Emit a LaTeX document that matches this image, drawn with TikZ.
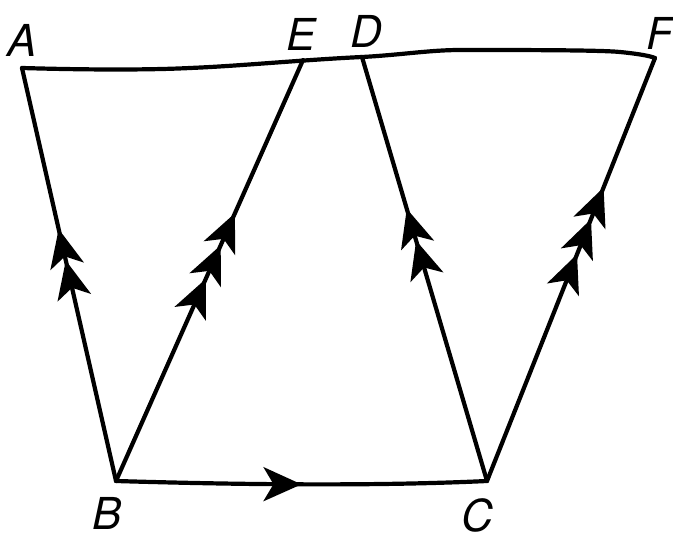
\documentclass[tikz,border=0pt]{standalone}
\usepackage{fontspec}
\setmainfont{TeX Gyre Heros}
\usetikzlibrary{arrows.meta,decorations.markings}
\begin{document}
\begin{tikzpicture}[x=1pt,y=-1pt,
  edge/.style={line width=4.2pt,line cap=round,line join=round},
  lbl/.style={font=\fontsize{44}{46}\selectfont\itshape,inner sep=0pt},
  tip/.tip={Stealth[length=38pt,width=34pt,inset=10pt]},
  ar1/.style={postaction={decorate},decoration={markings,mark=at position #1 with {\arrow{tip}}}},
]
\useasboundingbox (0,0) rectangle (673,553);
\coordinate (A) at (22,68);
\coordinate (E) at (303,60);
\coordinate (D) at (362,57);
\coordinate (F) at (655,58);
\coordinate (B) at (116,481);
\coordinate (C) at (487,481);
\coordinate (t1) at (190,68);
\coordinate (t2) at (460,50);
\coordinate (t3) at (620,52);

\node[lbl] (lA) at (22,40) {A};
\node[lbl] (lE) at (301,34) {E};
\node[lbl] (lD) at (366,31) {D};
\node[lbl] (lF) at (660,33) {F};
\node[lbl] (lB) at (107,513) {B};
\node[lbl] (lC) at (477,515) {C};

\draw[edge] (A) .. controls (90,70) and (150,70) .. (t1)
  .. controls (240,66) and (300,60) .. (D)
  .. controls (400,55) and (430,50) .. (t2)
  .. controls (520,50) and (600,50) .. (t3)
  .. controls (640,54) and (650,56) .. (F);

\draw[edge,postaction={decorate},decoration={markings,
  mark=at position 0.534 with {\arrow{tip}},
  mark=at position 0.61 with {\arrow{tip}}}] (B) -- (A);
\draw[edge,postaction={decorate},decoration={markings,
  mark=at position 0.48 with {\arrow{tip}},
  mark=at position 0.56 with {\arrow{tip}},
  mark=at position 0.636 with {\arrow{tip}}}] (B) -- (E);
\draw[edge,postaction={decorate},decoration={markings,
  mark=at position 0.567 with {\arrow{tip}},
  mark=at position 0.642 with {\arrow{tip}}}] (C) -- (D);
\draw[edge,postaction={decorate},decoration={markings,
  mark=at position 0.536 with {\arrow{tip}},
  mark=at position 0.619 with {\arrow{tip}},
  mark=at position 0.694 with {\arrow{tip}}}] (C) -- (F);
\draw[edge,ar1=0.5] (B) .. controls (250,485) and (380,486) .. (C);
\end{tikzpicture}
\end{document}
